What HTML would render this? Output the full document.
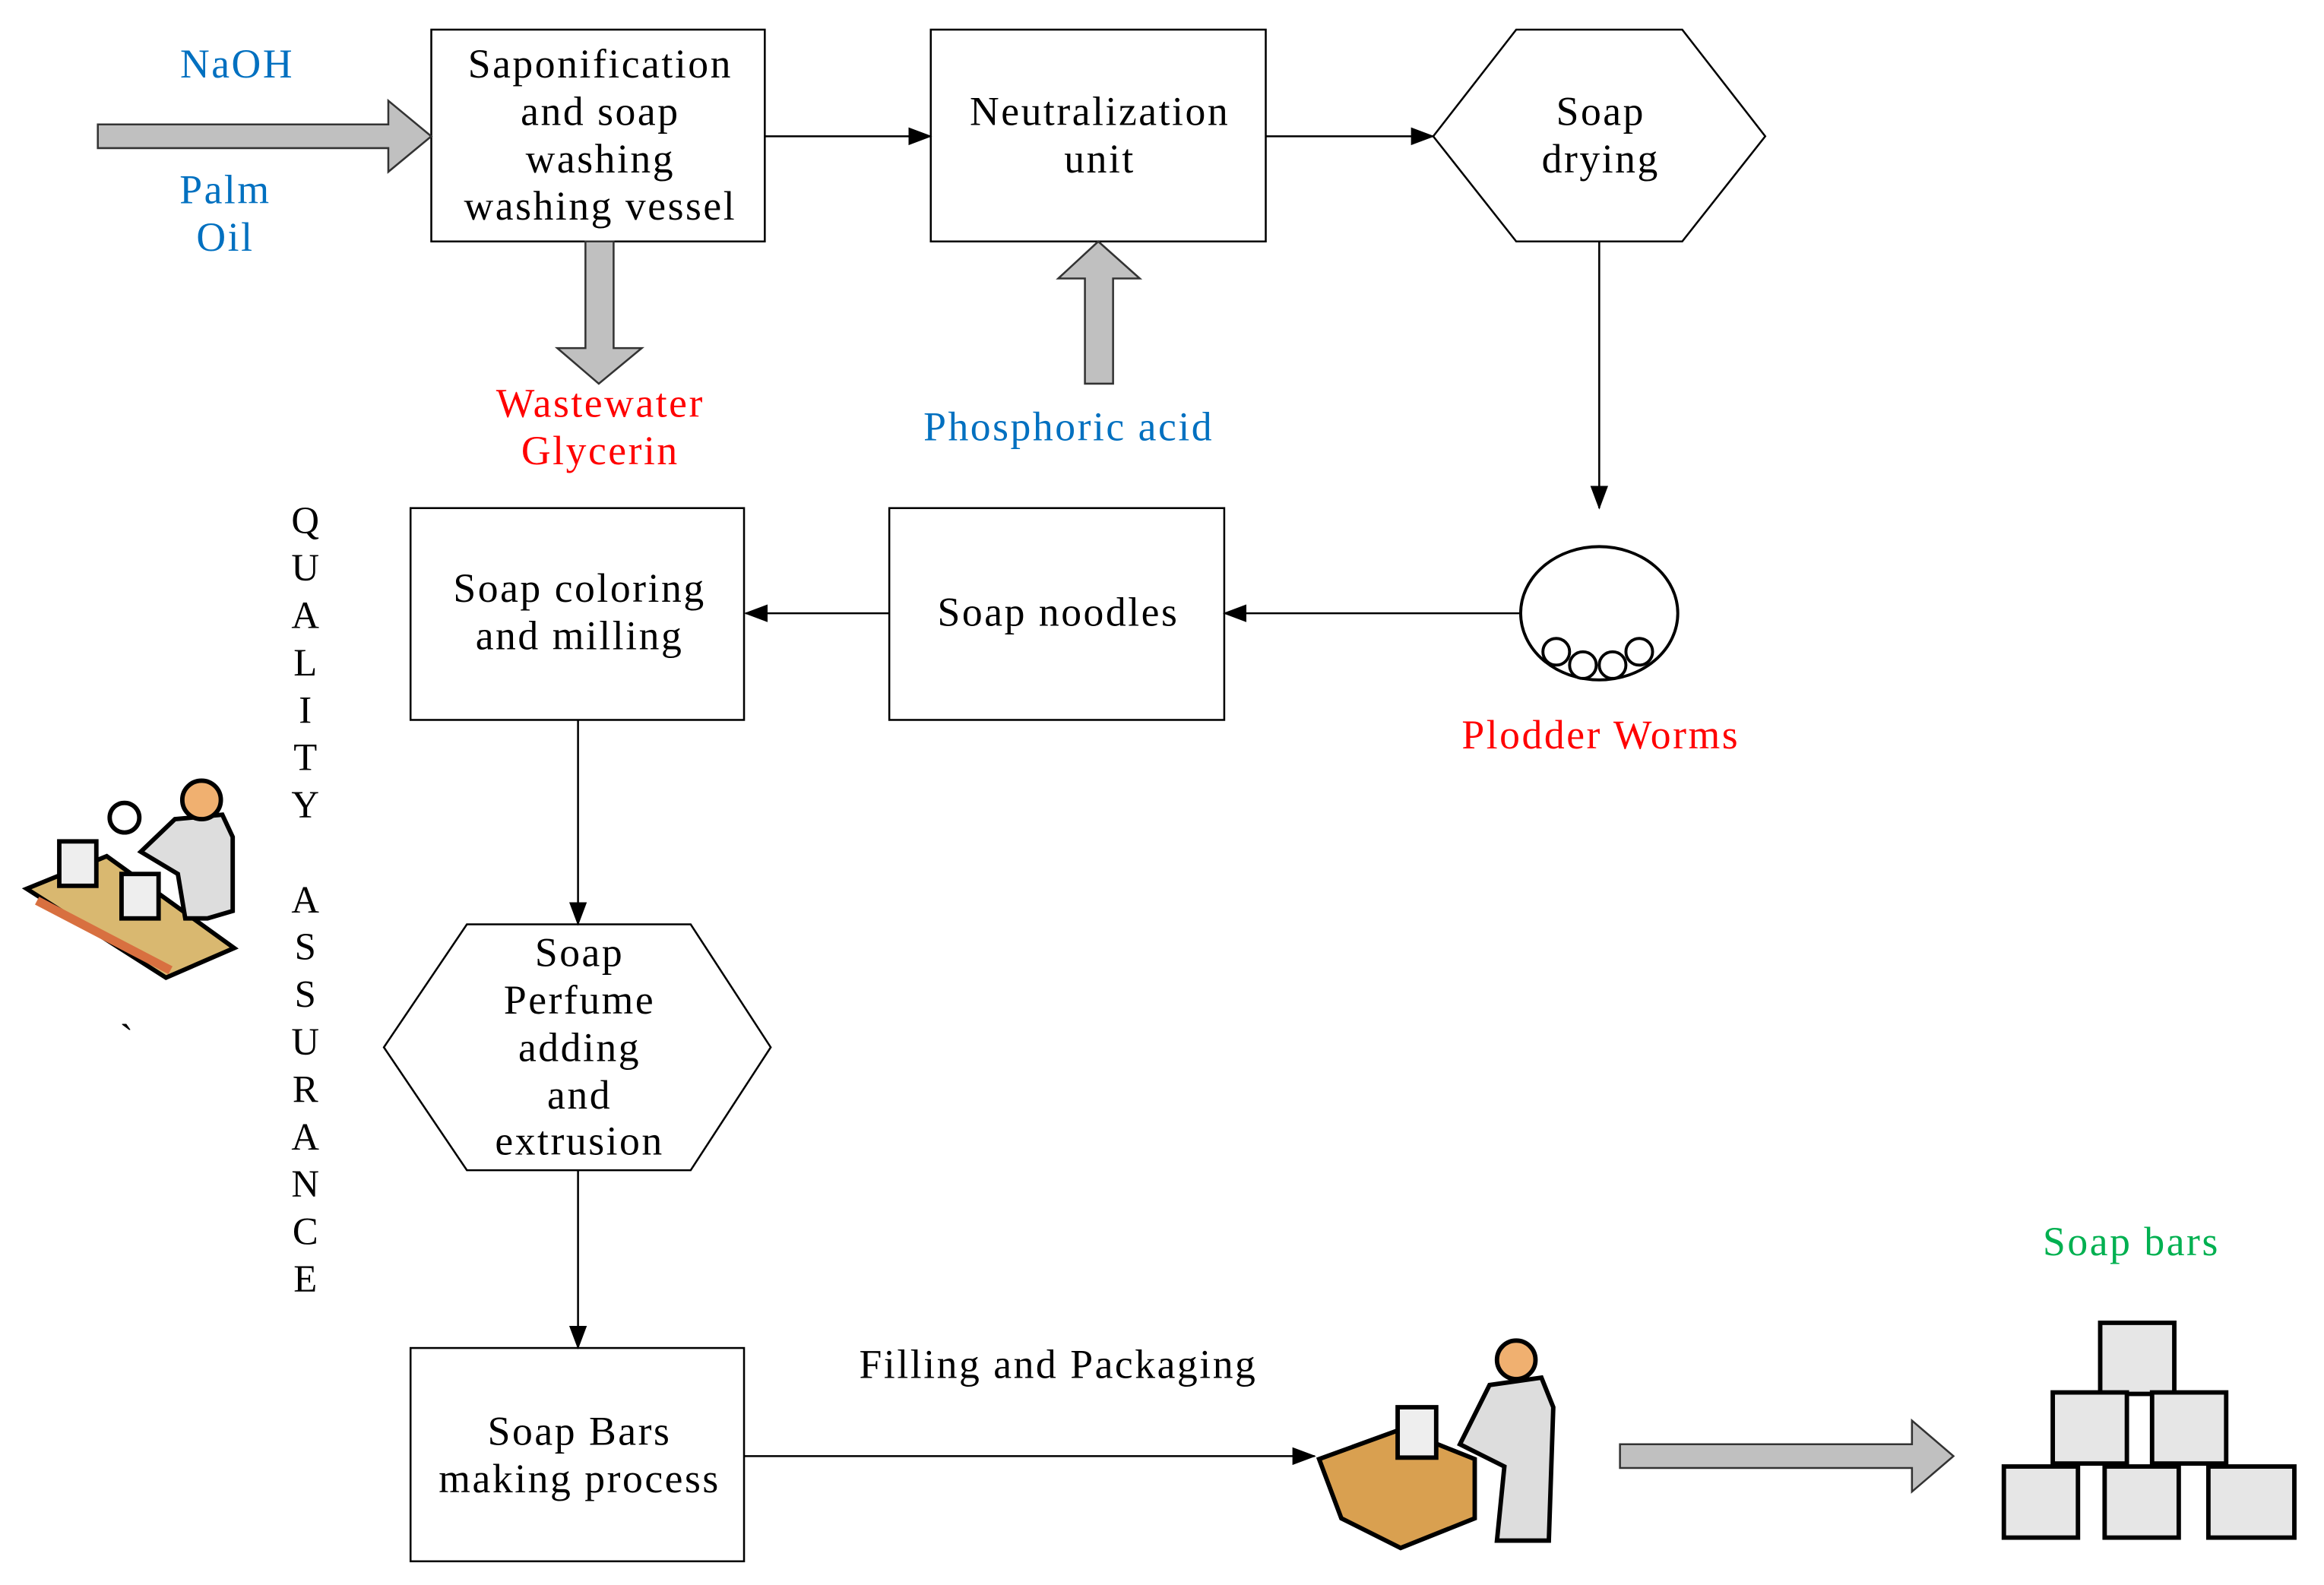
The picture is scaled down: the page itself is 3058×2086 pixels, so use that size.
<!DOCTYPE html>
<html><head><style>html,body{margin:0;padding:0;background:#fff}svg{display:block}</style></head>
<body>
<svg width="3058" height="2086" viewBox="0 0 1568 1070" preserveAspectRatio="none" xmlns="http://www.w3.org/2000/svg" font-family="Liberation Serif, serif" font-size="27.5" letter-spacing="1.3" text-anchor="middle" dominant-baseline="middle">
<defs><marker id="a" markerWidth="16" markerHeight="12" refX="15" refY="6" orient="auto" markerUnits="userSpaceOnUse"><path d="M0,0 L16,6 L0,12 z" fill="#000"/></marker></defs>
<g fill="#fff" stroke="#000" stroke-width="1.3">
<rect x="291" y="20" width="225" height="143"/>
<rect x="628" y="20" width="226" height="143"/>
<polygon points="967,92 1023,20 1135,20 1191,92 1135,163 1023,163"/>
<rect x="600" y="343" width="226" height="143"/>
<rect x="277" y="343" width="225" height="143"/>
<polygon points="259,707 315,624 466,624 520,707 466,790 315,790"/>
<rect x="277" y="910" width="225" height="144"/>
</g>
<g fill="#c0c0c0" stroke="#333" stroke-width="1.3">
<polygon points="66,84 262,84 262,68 291,92 262,116 262,100 66,100"/>
<polygon points="395,163 414,163 414,235 433,235 404,259 376,235 395,235"/>
<polygon points="732,259 751,259 751,188 769,188 741,163 714,188 732,188"/>
<polygon points="1093,975 1290,975 1290,959 1318,983 1290,1007 1290,991 1093,991"/>
</g>
<g stroke="#000" stroke-width="1.3" fill="none" marker-end="url(#a)">
<line x1="516" y1="92" x2="628" y2="92"/>
<line x1="854" y1="92" x2="967" y2="92"/>
<line x1="1079" y1="163" x2="1079" y2="343"/>
<line x1="1025" y1="414" x2="826" y2="414"/>
<line x1="600" y1="414" x2="503" y2="414"/>
<line x1="390" y1="486" x2="390" y2="624"/>
<line x1="390" y1="790" x2="390" y2="910"/>
<line x1="502" y1="983" x2="887" y2="983"/>
</g>
<g fill="#fff" stroke="#000" stroke-width="2">
<ellipse cx="1079" cy="414" rx="53" ry="45"/>
<circle cx="1050" cy="440" r="9"/><circle cx="1068" cy="449" r="9"/><circle cx="1088" cy="449" r="9"/><circle cx="1106" cy="440" r="9"/>
</g>
<g fill="#000">
<text x="405" y="46">Saponification</text><text x="405" y="78">and soap</text><text x="405" y="110">washing</text><text x="405" y="142">washing vessel</text>
<text x="742" y="78">Neutralization</text><text x="742" y="110">unit</text>
<text x="1080" y="78">Soap</text><text x="1080" y="110">drying</text>
<text x="714" y="416">Soap noodles</text>
<text x="391" y="400">Soap coloring</text><text x="391" y="432">and milling</text>
<text x="391" y="646">Soap</text><text x="391" y="678">Perfume</text><text x="391" y="710">adding</text><text x="391" y="742">and</text><text x="391" y="773">extrusion</text>
<text x="391" y="969">Soap Bars</text><text x="391" y="1001">making process</text>
<text x="714" y="924">Filling and Packaging</text>
<text x="86" y="704">`</text>
<g font-size="26" letter-spacing="0"><text x="206" y="354">Q</text><text x="206" y="386">U</text><text x="206" y="418">A</text><text x="206" y="450">L</text><text x="206" y="482">I</text><text x="206" y="514">T</text><text x="206" y="546">Y</text><text x="206" y="610">A</text><text x="206" y="642">S</text><text x="206" y="674">S</text><text x="206" y="706">U</text><text x="206" y="738">R</text><text x="206" y="770">A</text><text x="206" y="802">N</text><text x="206" y="834">C</text><text x="206" y="866">E</text></g>
</g>
<g fill="#0070c0"><text x="160" y="46">NaOH</text><text x="152" y="131">Palm</text><text x="152" y="163">Oil</text><text x="721" y="291">Phosphoric acid</text></g>
<g fill="#ff0000"><text x="405" y="275">Wastewater</text><text x="405" y="307">Glycerin</text><text x="1080" y="499">Plodder Worms</text></g>
<text x="1438" y="841" fill="#00b050">Soap bars</text>
<!-- QA icon -->
<g stroke="#000" stroke-width="3">
<polygon points="18,600 72,578 158,640 112,660" fill="#d9b870"/>
<line x1="25" y1="608" x2="115" y2="655" stroke="#d87040" stroke-width="6"/>
<circle cx="40" cy="637" r="0" />
<rect x="40" y="568" width="25" height="30" fill="#eee"/>
<rect x="82" y="590" width="25" height="30" fill="#eee"/>
<path d="M118,553 L150,550 L157,565 L157,615 L140,620 L125,620 L120,590 L95,575 Z" fill="#ddd"/>
<circle cx="136" cy="540" r="13" fill="#f0b070"/>
<circle cx="84" cy="552" r="10" fill="#fff"/>
</g>
<!-- packaging icon -->
<g stroke="#000" stroke-width="3">
<polygon points="890,985 945,965 995,985 995,1025 945,1045 905,1025" fill="#d9a050"/>
<rect x="943" y="950" width="26" height="34" fill="#eee"/>
<path d="M1005,935 L1040,930 L1048,950 L1045,1040 L1010,1040 L1015,990 L985,975 Z" fill="#ddd"/>
<circle cx="1023" cy="918" r="13" fill="#f0b070"/>
</g>
<!-- soap bars crates -->
<g stroke="#000" stroke-width="3" fill="#e6e6e6">
<rect x="1417" y="893" width="50" height="48"/>
<rect x="1385" y="940" width="50" height="48"/><rect x="1452" y="940" width="50" height="48"/>
<rect x="1352" y="990" width="50" height="48"/><rect x="1420" y="990" width="50" height="48"/><rect x="1490" y="990" width="58" height="48"/>
</g>
</svg>
</body></html>
